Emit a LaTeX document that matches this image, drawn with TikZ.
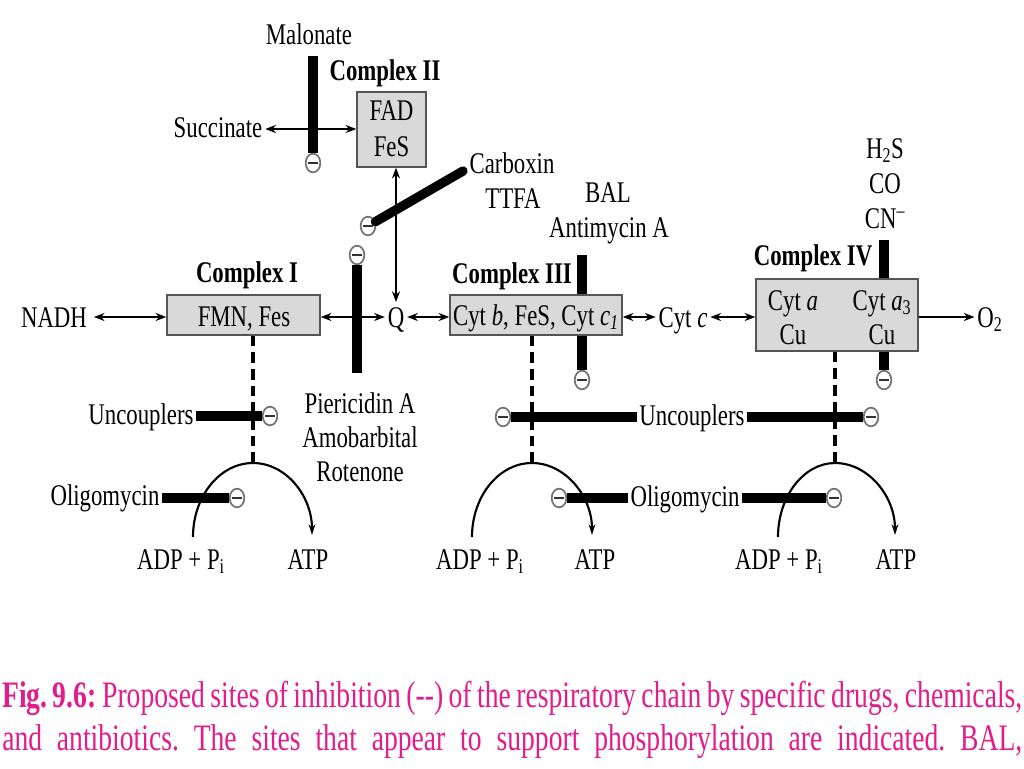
\documentclass[tikz,border=0pt]{standalone}
\usepackage{fontspec}
\setmainfont{Liberation Serif}[FakeStretch=0.76]
\newfontfamily\capfont{Liberation Serif}[FakeStretch=0.74]
\usetikzlibrary{arrows.meta,shapes.geometric}
\definecolor{boxfill}{RGB}{217,217,217}
\definecolor{boxline}{RGB}{85,85,85}
\definecolor{capcol}{RGB}{226,28,140}
\begin{document}
\begin{tikzpicture}[x=0.75pt,y=0.75pt,
  every node/.style={font=\fontsize{22.5}{26}\selectfont, inner xsep=2pt, inner ysep=0pt},
  txt/.style={anchor=base},
  cx/.style={anchor=base, font=\fontsize{22.5}{26}\selectfont\bfseries},
  cbox/.style={draw=boxline, fill=boxfill, line width=1.1pt, rectangle, inner sep=0pt},
  dbl/.style={line width=1.7pt, {Stealth[length=8pt,width=6pt]}-{Stealth[length=8pt,width=6pt]}},
  sgl/.style={line width=1.7pt, -{Stealth[length=8pt,width=6pt]}},
  bar/.style={line width=7pt},
  dsh/.style={line width=2.6pt, dash pattern=on 8pt off 4.5pt},
  inhib/.style={ellipse, draw=black!55, fill=white, line width=1.3pt, minimum width=11pt, minimum height=14pt, inner sep=0pt,
    path picture={\draw[line width=2pt, black!80] ([xshift=-3.4pt]path picture bounding box.center) -- ([xshift=3.4pt]path picture bounding box.center);}},
  arcl/.style={line width=1.6pt, -{Stealth[length=8pt,width=5pt]}}
]
\useasboundingbox (0,0) rectangle (1024,-768);
\fill[white] (0,0) rectangle (1024,-768);

% ---------- main row ----------
\coordinate (row) at (0,-317);
\coordinate (srow) at (0,-129);

\node[txt, inner xsep=5pt] (nadh) at (54,-327) {NADH};
\node[cbox, minimum width=114.75pt, minimum height=30pt] (c1) at (243.5,-315) {};
\node[txt] (c1t) at (244,-326) {FMN, Fes};
\node[cx] (c1l) at (247,-282) {Complex I};
\node[txt] (q) at (396,-327) {Q};

% Antimycin bar (behind complex III)
\node[inhib] (mAnt) at (582,-380) {};
\coordinate (tAnt) at (582,-255);
\draw[bar] (tAnt) -- (mAnt);

\node[cbox, minimum width=129pt, minimum height=30pt] (c3) at (536,-315) {};
\node[txt] (c3t) at (536,-325) {Cyt \textit{b}, FeS, Cyt \textit{c\textsubscript{1}}};
\node[cx] (c3l) at (512,-283) {Complex III};
\node[txt] (cytc) at (683,-327) {Cyt \textit{c}};

% CN bar (behind complex IV)
\node[inhib] (mCN) at (884,-380) {};
\coordinate (tCN) at (884,-240);
\draw[bar] (tCN) -- (mCN);

\node[cbox, minimum width=121.5pt, minimum height=54pt] (c4) at (837,-315) {};
\node[txt] (c4a) at (793,-310) {Cyt \textit{a}};
\node[txt] (c4b) at (793,-344) {Cu};
\node[txt] (c4c) at (882,-310) {Cyt \textit{a}\textsubscript{3}};
\node[txt] (c4d) at (882,-344) {Cu};
\node[cx] (c4l) at (813,-265) {Complex IV};
\node[txt] (o2) at (990,-327) {O\textsubscript{2}};

% complex II
\node[cbox, minimum width=51.75pt, minimum height=56.25pt] (c2) at (391.5,-129.5) {};
\node[txt] (c2a) at (391.5,-120) {FAD};
\node[txt] (c2b) at (391.5,-156) {FeS};
\node[cx] (c2l) at (385,-80) {Complex II};
\node[txt] (succ) at (218,-137) {Succinate};
\node[txt] (mal) at (309,-44) {Malonate};

% other labels
\node[txt] (carb) at (512,-173) {Carboxin};
\node[txt] (ttfa) at (513,-208) {TTFA};
\node[txt] (bal) at (608,-202) {BAL};
\node[txt] (anti) at (609,-237) {Antimycin A};
\node[txt] (h2s) at (885,-158) {H\textsubscript{2}S};
\node[txt] (co) at (885,-193) {CO};
\node[txt] (cn) at (885,-228) {CN\textsuperscript{\textendash}};
\node[txt] (pie) at (360,-413) {Piericidin A};
\node[txt] (amo) at (360,-447) {Amobarbital};
\node[txt] (rot) at (360,-481) {Rotenone};

% arrows of the chain
\draw[dbl] (nadh.east |- row) -- (c1.west |- row);
\draw[dbl] (c1.east |- row) -- (q.west |- row);
\draw[dbl] (q.east |- row) -- (c3.west |- row);
\draw[dbl] (c3.east |- row) -- (cytc.west |- row);
\draw[dbl] (cytc.east |- row) -- (c4.west |- row);
\draw[sgl] (c4.east |- row) -- (o2.west |- row);
\draw[dbl] (succ.east |- srow) -- (c2.west |- srow);
\coordinate (qtop) at (396,-302);
\draw[dbl] (c2.south -| qtop) -- (qtop);

% inhibitor bars
\node[inhib] (mMal) at (313,-163) {};
\coordinate (tMal) at (313,-56);
\draw[bar] (tMal) -- (mMal);
\node[inhib] (mCar) at (368,-226) {};
\coordinate (tCar) at (463,-171);
\draw[bar, line cap=round] (tCar) -- (mCar);
\node[inhib] (mPie) at (357,-255) {};
\coordinate (tPie) at (357,-373);
\draw[bar] (tPie) -- (mPie);

% phosphorylation sites
\coordinate (a1t) at (253,-463);
\coordinate (a2t) at (532,-463);
\coordinate (a3t) at (835,-463);
\draw[dsh] (c1.south -| a1t) -- (a1t);
\draw[dsh] (c3.south -| a2t) -- (a2t);
\draw[dsh] (c4.south -| a3t) -- (a3t);

\coordinate (a1l) at (193,-537);
\coordinate (a1r) at (312,-535);
\coordinate (a2l) at (472,-537);
\coordinate (a2r) at (592,-535);
\coordinate (a3l) at (778,-537);
\coordinate (a3r) at (895,-535);
\draw[arcl] (a1l) .. controls (193,-496) and (220,-463) .. (a1t) .. controls (286,-463) and (312,-496) .. (a1r);
\draw[arcl] (a2l) .. controls (472,-496) and (499,-463) .. (a2t) .. controls (565,-463) and (592,-496) .. (a2r);
\draw[arcl] (a3l) .. controls (778,-496) and (804,-463) .. (a3t) .. controls (868,-463) and (895,-496) .. (a3r);

\node[txt] (adp1) at (181,-569) {ADP + P\textsubscript{i}};
\node[txt] (atp1) at (308,-569) {ATP};
\node[txt] (adp2) at (480,-569) {ADP + P\textsubscript{i}};
\node[txt] (atp2) at (595,-569) {ATP};
\node[txt] (adp3) at (779,-569) {ADP + P\textsubscript{i}};
\node[txt] (atp3) at (896,-569) {ATP};

% uncouplers
\coordinate (urow1) at (0,-416);
\coordinate (urow2) at (0,-417);
\node[txt] (unc1) at (141,-424) {Uncouplers};
\node[inhib] (mU1) at (270,-416) {};
\draw[bar] (unc1.east |- urow1) -- (mU1);
\node[txt] (unc2) at (692,-425) {Uncouplers};
\node[inhib] (mU2) at (503,-417) {};
\node[inhib] (mU3) at (871,-417) {};
\draw[bar] (mU2) -- (unc2.west |- urow2);
\draw[bar] (unc2.east |- urow2) -- (mU3);

% oligomycin
\coordinate (orow) at (0,-498);
\node[txt] (ol1) at (105,-505) {Oligomycin};
\node[inhib] (mO1) at (237,-498) {};
\draw[bar] (ol1.east |- orow) -- (mO1);
\node[txt] (ol2) at (685,-506) {Oligomycin};
\node[inhib] (mO2) at (559,-498) {};
\node[inhib] (mO3) at (834,-498) {};
\draw[bar] (mO2) -- (ol2.west |- orow);
\draw[bar] (ol2.east |- orow) -- (mO3);

% caption
\node[anchor=base west, inner sep=0pt, text=capcol, font=\capfont\fontsize{28}{33}\selectfont\frenchspacing] (cap1) at (2,-707)
  {\makebox[765pt][s]{\textbf{Fig. 9.6:} Proposed sites of inhibition (-{}-) of the respiratory chain by specific drugs, chemicals,}};
\node[anchor=base west, inner sep=0pt, text=capcol, font=\capfont\fontsize{28}{33}\selectfont\frenchspacing] (cap2) at (2,-750)
  {\makebox[765pt][s]{and antibiotics. The sites that appear to support phosphorylation are indicated. BAL,}};
\end{tikzpicture}
\end{document}
